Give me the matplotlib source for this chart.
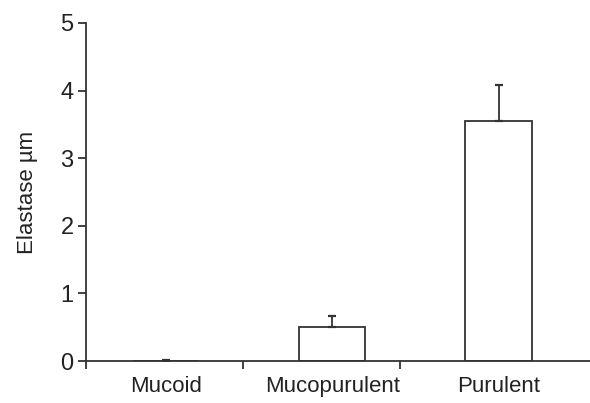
import numpy as np
import matplotlib
matplotlib.use("Agg")
from matplotlib import pyplot as plt
from matplotlib import font_manager

# Sputum elastase by sample type
categories = ["Mucoid", "Mucopurulent", "Purulent"]
elastase = [0.0, 0.50, 3.55]
elastase_err = [0.02, 0.16, 0.53]

names = {f.name for f in font_manager.fontManager.ttflist}
family = "Liberation Sans Narrow" if "Liberation Sans Narrow" in names else "Liberation Sans"
plt.rcParams["font.family"] = [family, "DejaVu Sans"]

ink = "#333333"
fig = plt.figure(figsize=(5.9, 4.03), dpi=100)
ax = fig.add_axes([86 / 590, 42 / 403, 504 / 590, 338 / 403])

x = np.arange(len(categories))
ax.bar(x, elastase, width=0.4, color="white", edgecolor=ink, linewidth=1.3, zorder=2)
ax.errorbar(x, elastase, yerr=[np.zeros(len(x)), elastase_err], fmt="none",
            ecolor=ink, elinewidth=1.3, capsize=3, capthick=1.6, zorder=3)

ax.set_xlim(-0.48, 2.55)
ax.set_ylim(0, 5)
ax.set_yticks(range(6))
ax.set_xticks(x)
ax.set_xticklabels(categories)
ax.set_xticks([-0.48, 0.463, 1.406], minor=True)

for s in ["top", "right"]:
    ax.spines[s].set_visible(False)
for s in ["left", "bottom"]:
    ax.spines[s].set_color(ink)
    ax.spines[s].set_linewidth(1.3)

ax.tick_params(axis="y", length=6, width=1.3, color=ink, pad=3, labelsize=17, labelcolor="#222222")
ax.tick_params(axis="x", which="major", length=0, pad=11, labelsize=16, labelcolor="#222222")
ax.tick_params(axis="x", which="minor", length=6, width=1.3, color=ink)

ax.set_ylabel("Elastase µm", fontsize=16, color="#222222", labelpad=16)

fig.savefig("out.png", dpi=100)
